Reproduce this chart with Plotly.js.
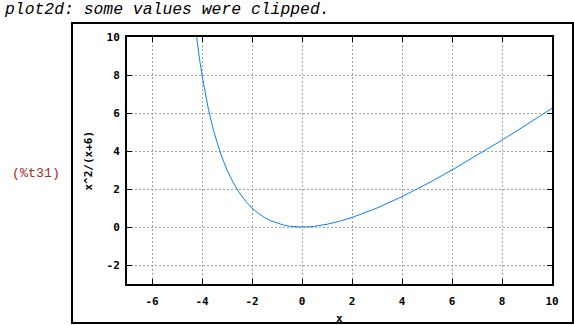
<!DOCTYPE html>
<html>
<head>
<meta charset="utf-8">
<script src="https://cdn.plot.ly/plotly-3.0.1.min.js"></script>
<style>
html,body{margin:0;padding:0;background:#fff;}
#chart{width:574px;height:325px;}
</style>
</head>
<body>
<div id="chart"></div>
<script>
// Curve x^2/(x+6), values
const xs = [-4.30, -4.22, -4.10, -4.00, -3.90, -3.75, -3.60, -3.50, -3.25, -3.00, -2.75, -2.50, -2.25, -2.00, -1.75, -1.50, -1.25, -1.00, -0.75, -0.50, -0.25, 0.00, 0.25, 0.50, 1.00, 1.50, 2.00, 2.50, 3.00, 4.00, 5.00, 6.00, 7.00, 8.00, 9.00, 10.00];
const ys = [10.88, 10.00, 8.85, 8.00, 7.24, 6.25, 5.40, 4.90, 3.84, 3.00, 2.33, 1.79, 1.35, 1.00, 0.72, 0.50, 0.33, 0.20, 0.107, 0.045, 0.011, 0.00, 0.010, 0.038, 0.143, 0.30, 0.50, 0.74, 1.00, 1.60, 2.27, 3.00, 3.77, 4.57, 5.40, 6.25];

const xTickVals = [-6, -4, -2, 0, 2, 4, 6, 8, 10];
const xTickText = ["-6", "-4", "-2", "0", "2", "4", "6", "8", "10"];
const yTickVals = [-2, 0, 2, 4, 6, 8, 10];
const yTickText = ["-2", "0", "2", "4", "6", "8", "10"];

const xLabel = "x";
const yLabel = "x^2/(x+6)";
const message = "plot2d: some values were clipped.";
const outLabel = "(%t31)";

const tickFont = {family: "DejaVu Sans Mono", size: 11, color: "#000", weight: "bold"};

const axisCommon = {
  showline: true, linecolor: "#000", linewidth: 2, mirror: "ticks",
  ticks: "inside", ticklen: 5, tickwidth: 1, tickcolor: "#000",
  showgrid: true, gridcolor: "#a0a0a0", gridwidth: 1, griddash: "2px,2px",
  zeroline: false, tickmode: "array", tickfont: tickFont, fixedrange: true
};

const data = [{
  x: xs, y: ys, type: "scatter", mode: "lines",
  line: {color: "#0a80f0", width: 1},
  hoverinfo: "skip", cliponaxis: true
}];

const layout = {
  width: 574, height: 325,
  margin: {l: 127, r: 22, t: 37, b: 41},
  paper_bgcolor: "#fff", plot_bgcolor: "#fff",
  showlegend: false,
  xaxis: Object.assign({}, axisCommon, {
    range: [-7, 10], tickvals: xTickVals, ticktext: xTickText,
    ticklabelstandoff: 6
  }),
  yaxis: Object.assign({}, axisCommon, {
    range: [-3, 10], tickvals: yTickVals, ticktext: yTickText,
    ticklabelstandoff: 3
  }),
  shapes: [{
    type: "rect", xref: "paper", yref: "paper",
    x0: (72 - 127) / 425, x1: (573 - 127) / 425,
    y0: (284 - 323) / 247, y1: (284 - 23) / 247,
    line: {color: "#000", width: 2}, fillcolor: "rgba(0,0,0,0)", layer: "below"
  }],
  annotations: [
    {text: message, xref: "paper", yref: "paper", x: (2 - 127) / 425, y: (284 - 9) / 247,
     xanchor: "left", yanchor: "middle", showarrow: false,
     font: {family: "Liberation Mono", size: 16.4, color: "#000", style: "italic"}},
    {text: outLabel, xref: "paper", yref: "paper", x: (36 - 127) / 425, y: (284 - 173) / 247,
     xanchor: "center", yanchor: "middle", showarrow: false,
     font: {family: "Liberation Mono", size: 13.3, color: "#a52a2a"}},
    {text: yLabel, xref: "paper", yref: "paper", x: (88 - 127) / 425, y: 0.5,
     xanchor: "center", yanchor: "middle", showarrow: false, textangle: -90,
     font: {family: "DejaVu Sans Mono", size: 11, color: "#000", weight: "bold"}},
    {text: xLabel, xref: "paper", yref: "paper", x: 0.5, y: (284 - 318) / 247,
     xanchor: "center", yanchor: "middle", showarrow: false,
     font: {family: "DejaVu Sans Mono", size: 11, color: "#000", weight: "bold"}}
  ]
};

Plotly.newPlot("chart", data, layout, {staticPlot: true, displayModeBar: false});
</script>
</body>
</html>
